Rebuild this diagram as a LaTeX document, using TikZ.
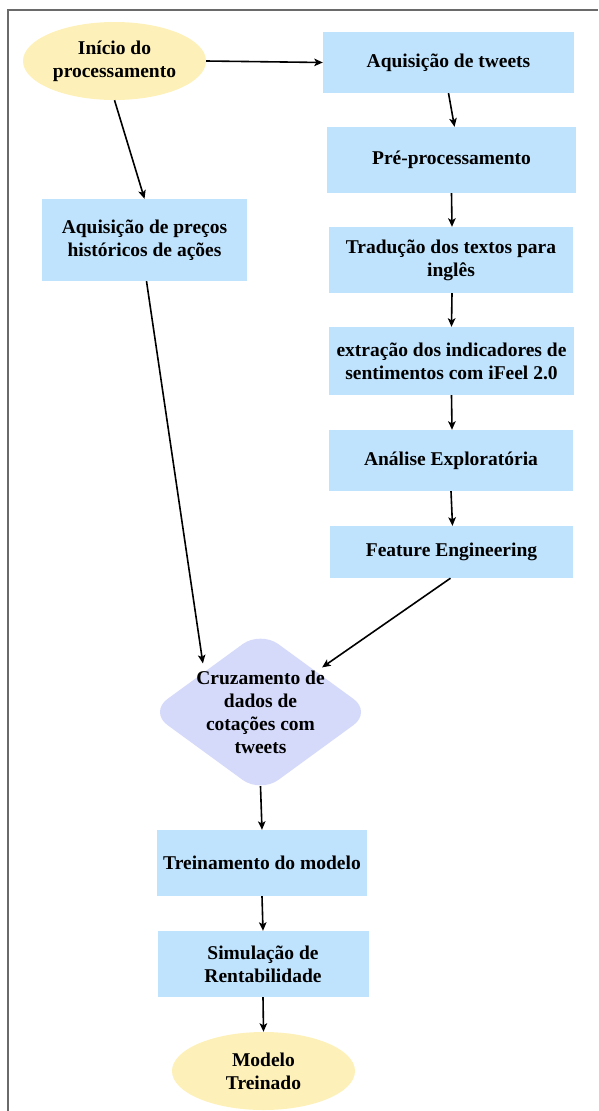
\documentclass[tikz,border=0pt]{standalone}
\usepackage{fontspec}
\setmainfont{Liberation Serif}
\usetikzlibrary{shapes.geometric,arrows.meta}
\definecolor{boxblue}{HTML}{BFE3FD}
\definecolor{ellyellow}{HTML}{FDF0B8}
\definecolor{diamlav}{HTML}{D5DAFA}
\definecolor{framegray}{HTML}{6A6A6A}
\tikzset{
  txt/.style={font=\bfseries\fontsize{19.5}{23}\selectfont, align=center, text=black},
  stepbox/.style={txt, rectangle, fill=boxblue, inner sep=0pt},
  startend/.style={txt, ellipse, fill=ellyellow, inner sep=0pt, minimum width=183pt, minimum height=78pt},
  decision/.style={diamond, fill=diamlav, inner sep=0pt, rounded corners=22pt},
  arr/.style={line width=1.6pt, -{Stealth[length=8.5pt,width=7.5pt,inset=2pt]}},
}
\begin{document}
\begin{tikzpicture}[x=1pt,y=-1pt]
\useasboundingbox (0,0) rectangle (598,1111);
\draw[framegray, line width=1.4pt] (8,1111) -- (8,10) -- (598,10);

\node[startend] (e) at (114.5,61) {Início do\\processamento};
\node[stepbox, minimum width=251pt, minimum height=61pt] (t) at (448.5,62.5) {Aquisição de tweets};
\node[stepbox, minimum width=249pt, minimum height=66pt] (pre) at (451.5,160) {Pré-processamento};
\node[stepbox, minimum width=244pt, minimum height=66pt] (trad) at (451,260) {Tradução dos textos para\\inglês};
\node[stepbox, minimum width=245pt, minimum height=68pt] (ext) at (451.5,361) {extração dos indicadores de\\sentimentos com iFeel 2.0};
\node[stepbox, minimum width=244pt, minimum height=61pt] (ana) at (451,460.5) {Análise Exploratória};
\node[stepbox, minimum width=243pt, minimum height=52pt] (feat) at (451.5,552) {Feature Engineering};
\node[stepbox, minimum width=205pt, minimum height=82pt] (prec) at (144.5,240) {Aquisição de preços\\históricos de ações};
\node[decision, minimum width=222pt, minimum height=162pt] (d) at (260.5,712) {};
\node[txt] (dt) at (d.center) {Cruzamento de\\dados de\\cotações com\\tweets};
\node[stepbox, minimum width=210pt, minimum height=66pt] (trein) at (262,863) {Treinamento do modelo};
\node[stepbox, minimum width=211pt, minimum height=66pt] (sim) at (263,964) {Simulação de\\Rentabilidade};
\node[startend] (fim) at (263.5,1071) {Modelo\\Treinado};

\draw[arr] (e.east) -- (t.west);
\draw[arr] (e.south) -- (prec.north);
\draw[arr] (t.south) -- ([xshift=3pt]pre.north);
\draw[arr] (pre.south) -- ([xshift=1pt]trad.north);
\draw[arr] ([xshift=1pt]trad.south) -- (ext.north);
\draw[arr] (ext.south) -- ([xshift=1pt]ana.north);
\draw[arr] (ana.south) -- ([xshift=1pt]feat.north);
\draw[arr] ([xshift=2pt]prec.south) -- ([xshift=-2pt,yshift=8pt]d.north west);
\draw[arr] ([xshift=-1pt]feat.south) -- ([xshift=6pt,yshift=4pt]d.north east);
\draw[arr] ([yshift=7pt]d.south) -- (trein.north);
\draw[arr] (trein.south) -- (sim.north);
\draw[arr] (sim.south) -- (fim.north);
\end{tikzpicture}
\end{document}
